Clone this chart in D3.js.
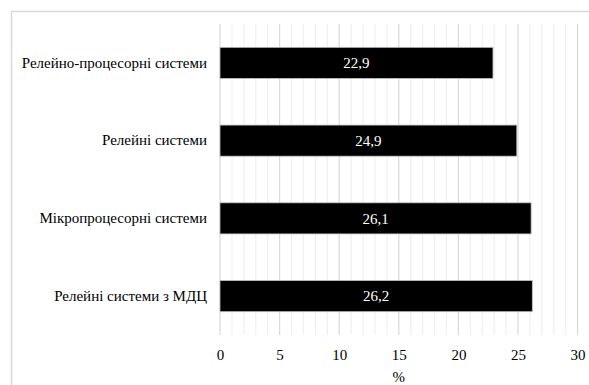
<html>
<head>
<meta charset="utf-8">
<script src="https://cdn.jsdelivr.net/npm/d3@7"></script>
</head>
<body style="margin:0">
<svg id="chart" width="589" height="385">
  <text id="axis-title" x="399" y="382" text-anchor="middle" style="font-family:'Liberation Serif'; font-size:15px">%</text>
</svg>
<script>
// Share of systems, %
const categories = [
  "Релейно-процесорні системи",
  "Релейні системи",
  "Мікропроцесорні системи",
  "Релейні системи з МДЦ"
];
const values = [22.9, 24.9, 26.1, 26.2];
const valueLabels = ["22,9", "24,9", "26,1", "26,2"];
const xTicks = [0, 5, 10, 15, 20, 25, 30];

const svg = d3.select("#chart");
const W = 589, H = 385;
const margin = { left: 220, right: 11.4, top: 24, bottom: 50 };
const fontStyle = "font-family:'Liberation Serif'; font-size:15px";

const x = d3.scaleLinear().domain([0, 30]).range([margin.left, W - margin.right]);
const y = d3.scaleBand().domain(categories)
  .range([margin.top, H - margin.bottom]).paddingInner(0.6).paddingOuter(0.3);

const layer = svg.insert("g", "#axis-title");

// frame around the chart area
layer.append("rect")
  .attr("x", 11.5).attr("y", 11.5)
  .attr("width", W + 20).attr("height", H + 20)
  .attr("fill", "none").attr("stroke", "#d9d9d9").attr("stroke-width", 1.5);

// minor grid (every 1 %)
layer.append("g").selectAll("line")
  .data(d3.range(0, 31).filter(v => v % 5 !== 0))
  .join("line")
  .attr("x1", d => x(d)).attr("x2", d => x(d))
  .attr("y1", margin.top).attr("y2", H - margin.bottom)
  .attr("stroke", "#f0f0f0").attr("stroke-width", 1.2);

// major grid (every 5 %)
layer.append("g").selectAll("line")
  .data(xTicks)
  .join("line")
  .attr("x1", d => x(d)).attr("x2", d => x(d))
  .attr("y1", margin.top).attr("y2", H - margin.bottom)
  .attr("stroke", "#d9d9d9").attr("stroke-width", 1.2);

// bars
layer.append("g").selectAll("rect")
  .data(values)
  .join("rect")
  .attr("x", x(0))
  .attr("y", (d, i) => y(categories[i]))
  .attr("width", d => x(d) - x(0))
  .attr("height", y.bandwidth())
  .attr("fill", "#000")
  .attr("stroke", "#bfbfbf").attr("stroke-width", 0.8);

// value labels inside bars
layer.append("g").selectAll("text")
  .data(values)
  .join("text")
  .attr("x", d => (x(0) + x(d)) / 2)
  .attr("y", (d, i) => y(categories[i]) + y.bandwidth() / 2)
  .attr("dy", "0.35em")
  .attr("text-anchor", "middle")
  .attr("fill", "#fff")
  .attr("style", fontStyle)
  .text((d, i) => valueLabels[i]);

// category axis
layer.append("g")
  .attr("transform", `translate(${x(0)},0)`)
  .call(d3.axisLeft(y).tickSize(0).tickPadding(13))
  .call(g => g.select(".domain").remove())
  .call(g => g.selectAll("text").attr("fill", "#000").attr("style", fontStyle));

// value axis
layer.append("g")
  .attr("transform", `translate(0,${H - margin.bottom})`)
  .call(d3.axisBottom(x).tickValues(xTicks).tickSize(0).tickPadding(14))
  .call(g => g.select(".domain").remove())
  .call(g => g.selectAll("text").attr("fill", "#000").attr("style", fontStyle));

// axis title sits under the middle of the value axis
d3.select("#axis-title").attr("x", x(15));
</script>
</body>
</html>
